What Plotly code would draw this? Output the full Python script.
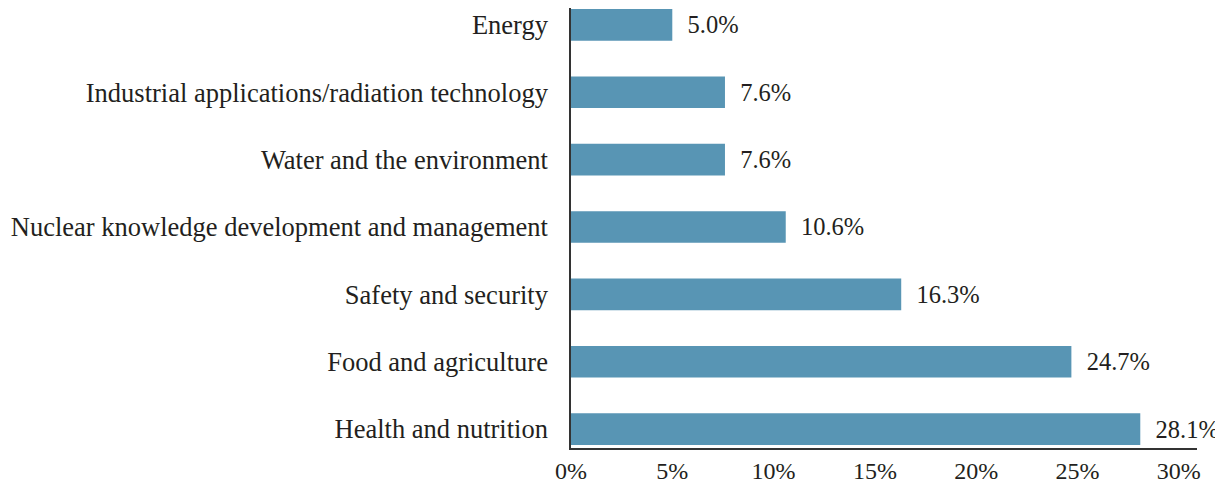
import plotly.graph_objects as go

categories = ["Health and nutrition", "Food and agriculture", "Safety and security",
              "Nuclear knowledge development and management", "Water and the environment",
              "Industrial applications/radiation technology", "Energy"]
values = [28.1, 24.7, 16.3, 10.6, 7.6, 7.6, 5.0]
tick_vals = [0, 5, 10, 15, 20, 25, 30]
tick_text = ["0%", "5%", "10%", "15%", "20%", "25%", "30%"]

FONT = "Liberation Serif"
TXT = "#231f20"

fig = go.Figure(go.Bar(
    y=categories, x=values, orientation="h",
    marker=dict(color="#5895b4", line=dict(width=0)),
    width=0.47,
    text=[f"{v:.1f}%" for v in values],
    texttemplate="  %{text}",
    textposition="outside",
    cliponaxis=False,
    textfont=dict(family=FONT, size=24.5, color=TXT),
))

# page body has an 8px default margin, so the figure is sized/offset to compensate
fig.update_layout(
    width=1215, height=476,
    margin=dict(l=563, r=26, t=0, b=36, autoexpand=False),
    plot_bgcolor="white", paper_bgcolor="white",
    showlegend=False,
    font=dict(family=FONT, size=24, color=TXT),
)
fig.update_xaxes(
    range=[0, 30.9], tickvals=tick_vals, ticktext=tick_text,
    showgrid=False, zeroline=False, automargin=False,
    showline=True, linecolor="#333333", linewidth=1.5,
    ticks="", ticklen=0, ticklabelstandoff=0,
    tickfont=dict(family=FONT, size=24, color=TXT),
)
fig.update_yaxes(
    range=[-0.28, 6.25], automargin=False,
    showgrid=False, zeroline=False,
    showline=True, linecolor="#333333", linewidth=1.5,
    ticks="", ticklabelstandoff=16,
    tickfont=dict(family=FONT, size=26.5, color=TXT),
)

fig.write_html("out.html")
